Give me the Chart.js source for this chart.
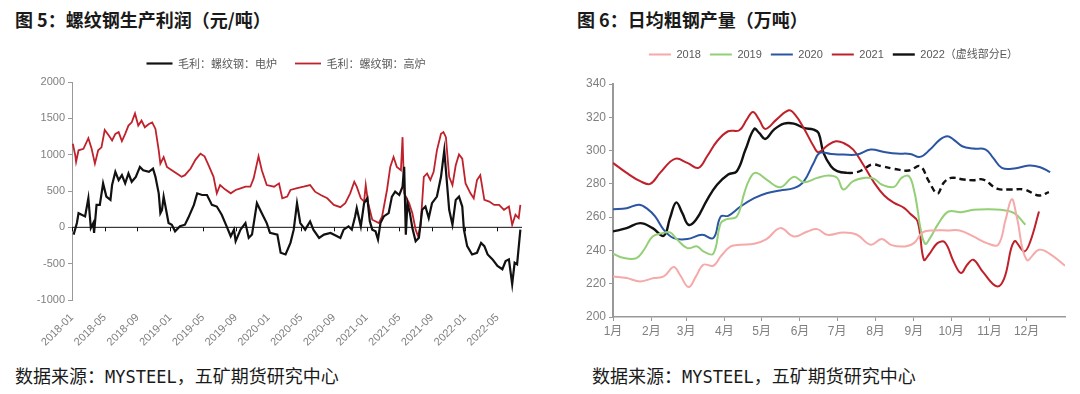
<!DOCTYPE html>
<html>
<head>
<meta charset="utf-8">
<script src="https://cdn.jsdelivr.net/npm/chart.js@4.4.1/dist/chart.umd.min.js"></script>
<style>
body{margin:0;background:#fff;}
#wrap{position:relative;width:1080px;height:394px;overflow:hidden;font-family:"Noto Sans CJK SC",sans-serif;color:#1a1a1a;}
.title{position:absolute;top:6px;font-size:18px;line-height:26px;font-weight:bold;}
.src{position:absolute;top:362px;font-size:18px;line-height:26px;}
.src span{font-family:"DejaVu Sans Mono",monospace;font-size:17px;}
canvas{position:absolute;}
</style>
</head>
<body>
<div id="wrap">
  <div class="title" style="left:15px">图 5：螺纹钢生产利润（元/吨）</div>
  <div class="title" style="left:577px">图 6：日均粗钢产量（万吨）</div>
  <canvas id="profit" width="545" height="320" style="left:0;top:40px"></canvas>
  <canvas id="output" width="520" height="310" style="left:560px;top:40px"></canvas>
  <div class="src" style="left:15px">数据来源：<span>MYSTEEL</span>，五矿期货研究中心</div>
  <div class="src" style="left:592px">数据来源：<span>MYSTEEL</span>，五矿期货研究中心</div>
</div>
<script>
// ---- 图5 数据：月份序号（2018-01 = 0）与毛利（元/吨）
const profitTickMonths = [0,4,8,12,16,20,24,28,32,36,40,44,48,52];
const profitTickLabels = ['2018-01','2018-05','2018-09','2019-01','2019-05','2019-09','2020-01','2020-05','2020-09','2021-01','2021-05','2021-09','2022-01','2022-05'];

const elecT = [0.2,0.6,0.8,1.6,2.0,2.3,2.6,2.7,3.0,3.4,
  3.8,4.2,4.7,4.9,5.3,5.7,6.1,6.5,6.9,7.3,
  7.8,8.3,8.7,9.4,9.9,10.2,10.6,10.8,11.0,11.2,
  11.5,11.8,12.2,12.6,13.2,13.8,14.2,14.9,15.3,15.9,
  16.5,17.1,17.7,18.3,18.9,19.4,19.8,20.0,20.6,21.2,
  21.6,22.0,22.6,23.2,23.8,24.2,25.1,25.5,26.1,26.7,
  27.1,27.5,27.9,28.5,29.1,29.5,30.2,30.8,31.6,32.4,
  32.8,33.2,33.8,34.2,34.6,34.8,35.3,35.7,36.1,36.4,
  36.7,37.1,37.4,37.7,38.1,38.7,39.1,39.5,40.0,40.4,
  40.6,40.8,41.0,41.3,41.6,42.0,42.4,42.8,43.2,43.6,
  44.0,44.6,45.1,45.5,45.8,46.1,46.5,46.9,47.3,47.7,
  47.9,48.3,48.9,49.5,50.0,50.4,50.8,51.4,52.0,52.6,
  53.0,53.4,53.8,54.1,54.4,54.8];
const elecV = [-100,59,195,150,400,-9,59,-77,309,309,
  605,423,377,582,764,650,718,605,741,627,
  695,832,786,764,809,695,468,195,241,423,
  241,59,36,-55,14,36,127,309,468,445,
  445,309,286,173,14,-123,-32,-191,-32,59,
  -145,-100,332,195,59,-77,-100,-350,-373,-214,
  -32,332,59,-32,82,-32,-145,-100,-77,-123,
  -145,-32,14,-32,150,264,14,332,400,82,
  -32,-55,-168,59,150,195,423,491,445,559,
  832,-100,332,195,-9,-191,-145,241,286,127,
  332,423,695,1059,650,241,36,377,423,286,
  -32,-259,-373,-350,-214,-259,-373,-441,-532,-577,
  -464,-441,-782,-486,-509,-32];

const blastT = [0.1,0.4,0.5,0.8,1.4,2.0,2.4,2.8,3.2,3.6,
  4.0,4.5,4.9,5.3,5.7,6.1,6.5,6.9,7.3,7.7,
  8.1,8.5,8.9,9.4,9.8,10.2,10.6,10.8,11.2,11.6,
  12.2,12.8,13.4,13.8,14.5,15.1,15.7,16.2,16.7,17.3,
  17.7,18.1,18.7,19.4,20.0,20.6,21.2,21.8,22.2,22.8,
  23.2,23.8,24.7,25.3,25.7,26.3,26.7,27.4,28.3,29.1,
  29.7,30.4,31.2,32.0,32.8,33.4,34.0,34.5,34.8,35.3,
  35.7,35.9,36.2,36.7,37.5,37.9,38.5,38.9,39.3,39.7,
  40.2,40.4,40.6,41.2,41.6,42.0,42.3,42.6,43.0,43.4,
  43.8,44.2,44.6,45.1,45.4,45.7,46.1,46.5,46.9,47.3,
  47.7,48.1,48.7,49.1,49.5,49.9,50.4,51.0,51.6,52.2,
  52.8,53.4,53.8,54.2,54.6,54.8];
const blastV = [1150,990,900,1060,1080,1227,1080,877,1060,1100,
  1340,1263,1195,1286,1310,1186,1286,1400,1445,1568,
  1400,1468,1377,1423,1445,1354,1060,877,968,832,
  786,740,695,718,809,932,1013,977,854,695,
  468,582,523,468,514,536,559,559,673,977,
  786,582,559,605,400,423,514,536,559,582,
  491,445,400,309,277,332,468,627,559,400,
  355,582,332,105,59,150,514,832,968,832,
  786,1241,468,332,195,-32,-123,14,695,741,
  650,764,1059,1286,1310,1241,695,582,854,1004,
  945,605,468,400,650,718,377,355,309,309,
  241,286,36,173,127,309];

// ---- 图6 数据：一年中的第几天 与 日均粗钢产量（万吨）
const monthStartDays = [0,31,59,90,120,151,181,212,243,273,304,334];
const monthLabels = ['1月','2月','3月','4月','5月','6月','7月','8月','9月','10月','11月','12月'];

const day2018 = [0,11,22,33,41,49,54,61,67,73,81,87,95,103,114,124,135,146,157,165,173,186,197,208,217,225,236,243,250,259,270,280,291,302,311,317,322,326,334,344,353,365];
const val2018 = [224.4,223.4,221.4,223.4,224.4,230,225.4,218,224.4,231.4,230.8,236.4,242.4,243.4,244,246.8,253.4,248.4,251.4,252.8,249.4,250.8,249.4,243.4,246.8,243.2,242.4,244.4,250.8,252,252,252,248.4,244.4,243.4,258.4,270.8,260.4,234.4,240.4,237.8,230.8];

const day2019 = [0,9,19,25,32,40,46,52,60,68,73,81,87,92,100,106,110,115,124,135,146,154,165,174,181,186,194,204,211,217,227,233,239,243,246,248,252,256,263,271,281,291,302,313,324,333];
const val2019 = [238,235.4,235.4,240.4,248.4,250.4,250.8,246.4,241.4,242.4,239.4,238,256.4,258.8,260.4,274.4,282.4,286.6,282.6,278,284.2,281,283.6,285,283.6,276.6,281.6,283.6,283,279.6,278.2,283.6,284.6,276.4,264.4,254.4,244,247.4,256.4,263.4,263,264.4,264.8,264.4,262.4,255.4];

const day2020 = [0,11,21,28,34,41,49,60,72,81,87,93,103,114,124,135,146,154,162,167,176,186,197,208,219,229,240,248,256,264,270,275,282,291,301,307,314,324,336,345,353];
const val2020 = [264.8,265.4,267.4,264.8,260.4,252.4,247.4,246.8,249.4,247.4,260.4,260.8,266.4,271.4,274.4,276,277.4,281.4,292.6,298.6,298,297.6,297.6,300.6,299.2,298.2,298,296.2,300.6,306.6,308.6,306.6,302.6,301.2,300.6,295.6,289.6,289.2,291,290,287];

const day2021 = [0,11,22,30,38,50,60,69,76,84,93,102,108,113,118,123,132,142,147,154,162,166,173,180,186,194,202,211,219,227,235,240,246,251,255,262,268,275,281,286,291,299,310,316,324,332,337,344];
const val2021 = [292.6,286.6,281.6,280,286.6,295,292.6,289.6,296.6,305.6,311.6,312.2,318.6,323.2,318.6,313,318.6,324.2,321.6,313.6,302.6,299,303,305.6,304.6,300.6,291.6,280.6,273,268.6,265.6,262,257.4,234.4,237.4,244.4,244.8,233.4,226.4,231.4,234.4,226.8,218.4,223.4,245.4,239.4,245.4,263.4];

const day2022 = [0,11,22,32,41,46,51,56,61,67,76,84,93,100,107,114,118,123,130,138,146,154,162,166,170,176,181,189,197,202,209,217,227,239,248,255,262,267,273,283,291,299,310,321,332,344,352];
const val2022 = [251.4,253.4,256.4,253.4,248.8,259.4,268.8,262.4,255.4,258.4,270.4,279.4,285.6,287.6,300.6,313,310.6,307,312.6,316.2,316.2,313.6,312.6,310.6,298.6,290.6,287.6,286.6,287,288.6,291.6,290.6,289,288,290.6,281.6,274.2,280.6,283.6,282.6,282.2,282.6,277.2,276.6,276.6,273,275];
const estimateFromDay = 189; // 2022 之后为预估（虚线）

function pairs(xs, ys) {
    return xs.map((x, i) => ({x: x, y: ys[i]}));
}

const axisFont = {family: "'Liberation Sans','Noto Sans CJK SC',sans-serif", size: 12};
const gray = '#7f7f7f';

// 固定图例高度，并把图例整体右移一点（原图图例不在正中）
function legendBox(h, dx) {
    return {
        id: 'legendBox',
        beforeInit(chart) {
            const fit = chart.legend.fit;
            chart.legend.fit = function () {
                fit.call(this);
                this.height = h;
            };
        },
        afterLayout(chart) {
            chart.legend.left += dx;
            chart.legend.right += dx;
        }
    };
}

// 0 轴线及其刻度（横轴与 0 相交）
const zeroAxis = {
    id: 'zeroAxis',
    beforeDatasetsDraw(chart) {
        const {ctx, scales: {x, y}} = chart;
        const y0 = y.getPixelForValue(0);
        ctx.save();
        ctx.strokeStyle = '#111';
        ctx.lineWidth = 1;
        ctx.beginPath();
        ctx.moveTo(x.left, y0);
        ctx.lineTo(x.right, y0);
        x.ticks.forEach(t => {
            const px = Math.round(x.getPixelForValue(t.value)) + 0.5;
            ctx.moveTo(px, y0);
            ctx.lineTo(px, y0 + 4);
        });
        ctx.stroke();
        ctx.restore();
    }
};

new Chart(document.getElementById('profit'), {
    type: 'line',
    data: {
        datasets: [{
            label: '毛利：螺纹钢：电炉',
            data: pairs(elecT, elecV),
            borderColor: '#111',
            backgroundColor: '#111',
            borderWidth: 2.2
        }, {
            label: '毛利：螺纹钢：高炉',
            data: pairs(blastT, blastV),
            borderColor: '#c0222c',
            backgroundColor: '#c0222c',
            borderWidth: 1.8
        }]
    },
    options: {
        responsive: false,
        animation: false,
        layout: {padding: {left: 0, right: 23, top: 0, bottom: 0}},
        elements: {point: {radius: 0}, line: {tension: 0}},
        plugins: {
            tooltip: {enabled: false},
            legend: {
                labels: {
                    usePointStyle: true,
                    pointStyle: 'line',
                    pointStyleWidth: 26,
                    boxHeight: 6,
                    padding: 18,
                    color: '#595959',
                    font: {family: "'Noto Sans CJK SC',sans-serif", size: 11}
                }
            }
        },
        scales: {
            x: {
                type: 'linear',
                min: 0,
                max: 55,
                afterBuildTicks: s => { s.ticks = profitTickMonths.map(v => ({value: v})); },
                afterFit: s => { s.height = 60; },
                grid: {display: false},
                border: {display: false},
                ticks: {
                    autoSkip: false,
                    minRotation: 45,
                    maxRotation: 45,
                    padding: 3,
                    color: gray,
                    font: {family: axisFont.family, size: 11},
                    callback: (v, i) => profitTickLabels[i]
                }
            },
            y: {
                min: -1000,
                max: 2000,
                afterFit: s => { s.width = 72; },
                grid: {drawOnChartArea: false, tickLength: 4, tickColor: '#999'},
                border: {color: '#999', width: 1},
                ticks: {stepSize: 500, padding: 3, color: gray, font: {family: axisFont.family, size: 11},
                        callback: v => String(v)}
            }
        }
    },
    plugins: [legendBox(42, 25), zeroAxis]
});

new Chart(document.getElementById('output'), {
    type: 'line',
    data: {
        datasets: [
            {label: '2018', data: pairs(day2018, val2018), borderColor: '#f5a9a9', backgroundColor: '#f5a9a9', borderWidth: 2},
            {label: '2019', data: pairs(day2019, val2019), borderColor: '#93cf76', backgroundColor: '#93cf76', borderWidth: 2},
            {label: '2020', data: pairs(day2020, val2020), borderColor: '#2b55a3', backgroundColor: '#2b55a3', borderWidth: 2},
            {label: '2021', data: pairs(day2021, val2021), borderColor: '#c0202a', backgroundColor: '#c0202a', borderWidth: 2},
            {
                label: '2022（虚线部分E）',
                data: pairs(day2022, val2022),
                borderColor: '#111',
                backgroundColor: '#111',
                borderWidth: 2.4,
                segment: {borderDash: c => c.p0.parsed.x >= estimateFromDay ? [6, 4] : undefined}
            }
        ]
    },
    options: {
        responsive: false,
        animation: false,
        layout: {padding: {left: 0, right: 15, top: 0, bottom: 0}},
        elements: {point: {radius: 0}, line: {tension: 0.4}},
        plugins: {
            tooltip: {enabled: false},
            legend: {
                labels: {
                    usePointStyle: true,
                    pointStyle: 'line',
                    pointStyleWidth: 22,
                    boxHeight: 6,
                    padding: 9,
                    color: '#595959',
                    font: {family: axisFont.family, size: 11}
                }
            }
        },
        scales: {
            x: {
                type: 'linear',
                min: 0,
                max: 365,
                afterBuildTicks: s => { s.ticks = monthStartDays.map(v => ({value: v})); },
                afterFit: s => { s.height = 33; },
                grid: {drawOnChartArea: false, tickLength: 4, tickColor: '#999'},
                border: {color: '#999', width: 1.5},
                ticks: {autoSkip: false, maxRotation: 0, padding: 3, color: gray, font: axisFont,
                        callback: (v, i) => monthLabels[i]}
            },
            y: {
                min: 200,
                max: 340,
                afterFit: s => { s.width = 53; },
                grid: {drawOnChartArea: false, tickLength: 4, tickColor: '#999'},
                border: {color: '#999', width: 2},
                ticks: {stepSize: 20, padding: 3, color: gray, font: axisFont}
            }
        }
    },
    plugins: [legendBox(44, 21)]
});
</script>
</body>
</html>
